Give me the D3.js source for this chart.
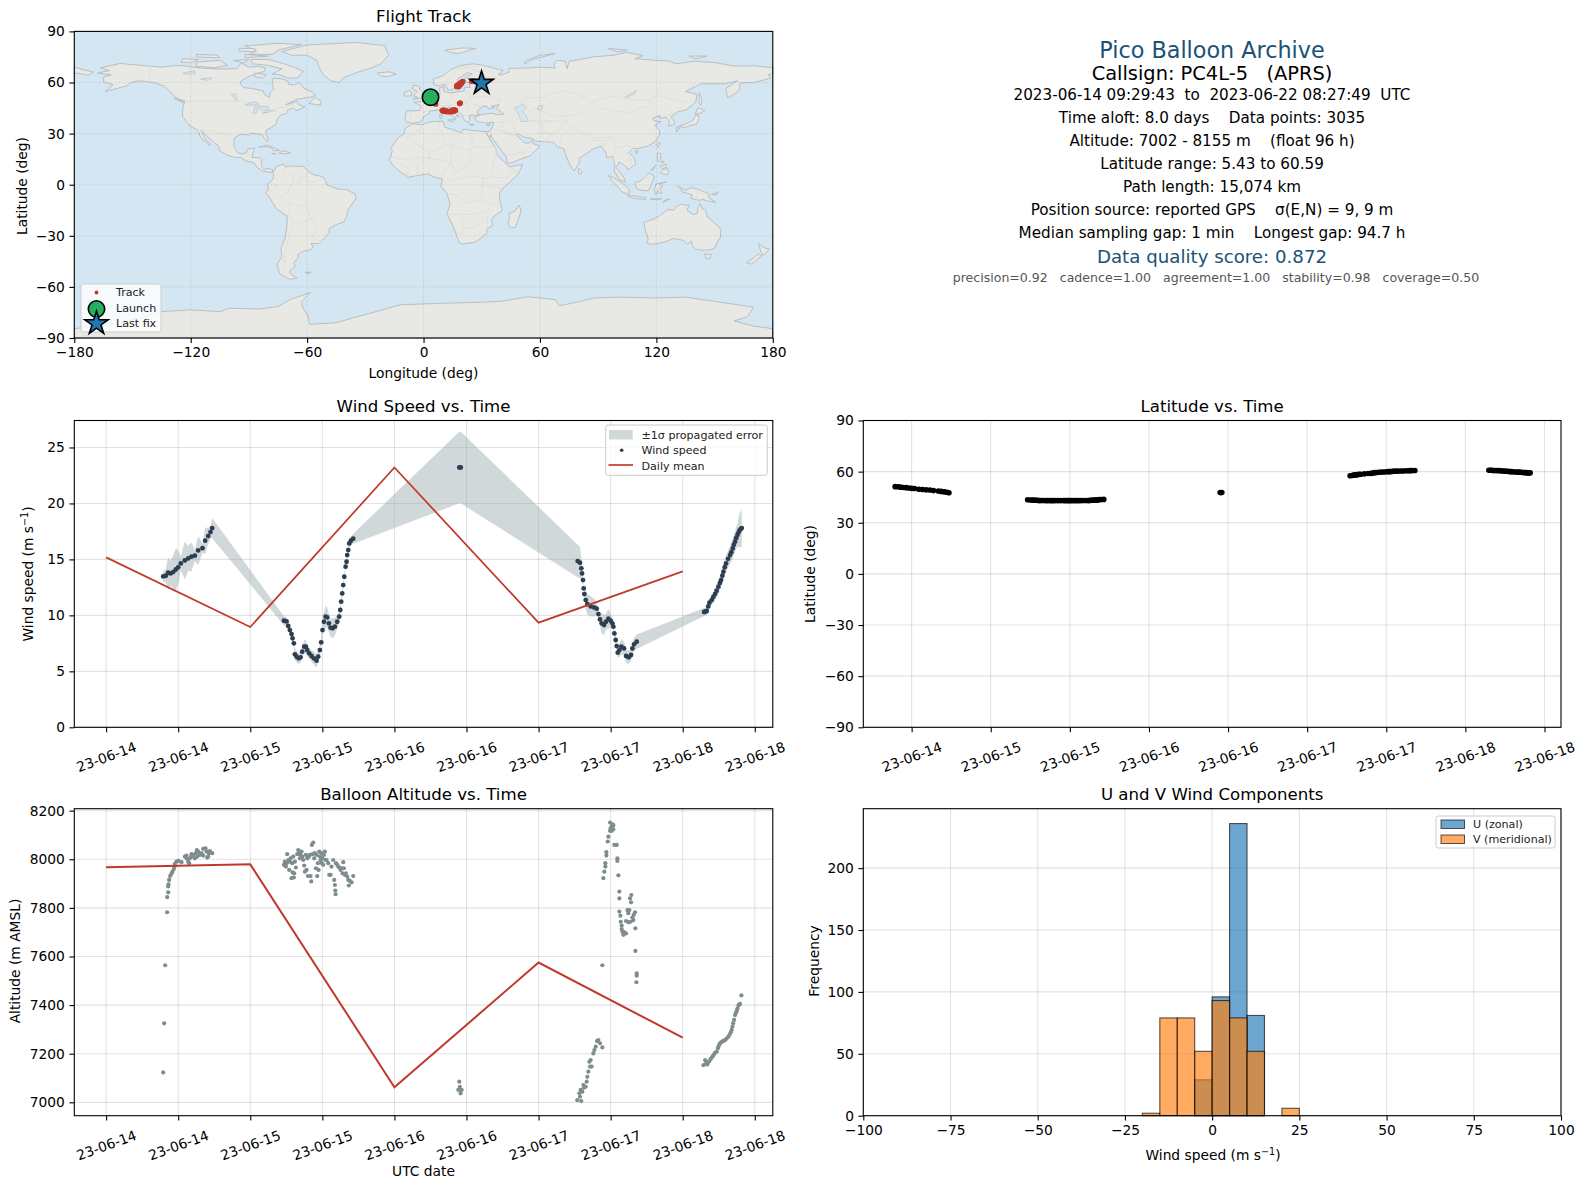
<!DOCTYPE html>
<html>
<head>
<meta charset="UTF-8">
<title>Pico Balloon Archive</title>
<script src="https://d3js.org/d3.v7.min.js"></script>
<style>
	body { margin: 0; background: #fff; }
	svg text { font-family: "DejaVu Sans", sans-serif; white-space: pre; }
</style>
</head>
<body>
<div id="svg-container"></div>
<script type="text/javascript">

// hours after 2023-06-14 00:00 UTC
const windHours = [9.5,9.94,10.33,10.72,11.16,11.6,11.99,12.44,13.1,13.66,14.21,14.77,15.32,16.05,16.49,16.99,17.38,17.66,
	29.6,30.04,30.32,30.59,30.87,31.04,31.26,31.43,31.7,32.04,32.37,32.65,32.98,33.26,33.48,33.81,34.2,34.59,35.04,35.31,35.59,35.81,36.03,36.26,36.54,36.81,37.09,37.37,37.7,38.09,38.48,38.81,38.98,39.14,39.31,39.48,39.65,39.87,40.03,40.14,40.31,40.48,40.75,41.14,
	58.8,59.05,
	78.51,78.9,79.12,79.24,79.4,79.51,79.62,79.85,80.12,80.68,81.23,81.68,81.96,82.23,82.51,82.9,83.23,83.62,84.01,84.29,84.46,84.62,84.84,85.01,85.18,85.46,85.79,86.23,86.57,87.01,87.4,87.62,87.9,88.34,
	99.56,99.8,100,100.25,100.45,100.84,101.1,101.39,101.65,101.95,102.2,102.39,102.6,102.78,103,103.22,103.55,103.89,104.1,104.33,104.5,104.72,104.9,105.11,105.3,105.44,105.65,105.83];
const windSpeed = [13.48,13.54,13.81,13.75,13.87,14.1,14.29,14.64,14.91,15.09,15.24,15.33,15.8,16,16.67,17.08,17.44,17.8,
	9.52,9.46,9.05,8.69,8.33,7.95,7.5,6.52,6.31,6.16,6.25,6.76,7.2,7.2,6.9,6.61,6.37,6.16,5.95,6.31,6.9,7.59,8.69,9.43,9.88,9.82,9.29,8.9,8.84,8.99,9.43,9.88,10.48,11.22,11.96,12.71,13.45,14.35,14.79,15.39,15.83,16.43,16.67,16.85,
	23.21,23.21,
	14.85,14.7,14.2,13.75,13.15,12.41,11.9,11.37,11.01,10.8,10.71,10.6,10.12,9.64,9.29,9.14,9.43,9.7,9.52,9.29,8.99,8.39,7.8,7.26,6.67,6.9,7.2,7.05,6.37,6.25,6.46,7.05,7.41,7.65,
	10.3,10.33,10.39,10.8,11.13,11.37,11.65,11.9,12.2,12.56,12.9,13.15,13.55,13.9,14.3,14.64,15.05,15.39,15.65,15.98,16.3,16.58,16.9,17.17,17.4,17.56,17.7,17.8];
// half width of the grey band at each of those points
const windSigma = [0.45,0.6,1.4,1.1,1.5,1.9,1.5,0.6,1.7,1.1,1.3,0.5,1.3,0.4,1.2,0.7,0.6,0.9,
	0.4,0.4,0.4,0.4,0.4,0.4,0.4,0.5,0.5,0.5,0.5,0.5,0.6,0.6,0.5,0.5,0.5,0.6,0.6,0.5,0.5,0.5,0.6,0.8,1,0.9,0.8,0.8,0.9,0.8,0.6,0.5,0.4,0.4,0.3,0.3,0.3,0.3,0.4,0.3,0.3,0.4,0.4,0.45,
	3.2,3.2,
	1.45,1.4,1,0.6,0.4,0.3,0.3,0.9,0.9,0.9,0.8,0.5,0.4,0.6,0.9,0.9,0.7,0.9,0.6,0.4,0.3,0.3,0.4,0.4,0.5,0.6,0.7,0.6,0.6,0.6,0.5,0.5,0.6,0.65,
	0.35,0.35,0.35,0.4,0.4,0.45,0.5,0.55,0.55,0.6,0.6,0.6,0.65,0.7,0.7,0.7,0.75,0.8,0.85,0.85,0.9,0.9,1,1,1.3,1.5,1.6,1.7];

// latitude at the same reports
const latValues = [51.2,51.1,50.9,50.7,50.6,50.4,50.2,50.1,49.7,49.5,49.3,49.2,48.9,48.6,48.4,48.1,47.9,47.6,
	43.5,43.4,43.3,43.3,43.2,43.2,43.1,43.1,43.1,43.1,43,43,43,43,43,43,43,43,43,43,43,43,43,43,43,43,43,43,43,43.1,43.1,43.1,43.1,43.2,43.2,43.2,43.3,43.3,43.4,43.4,43.5,43.6,43.6,43.7,
	47.7,47.7,
	57.6,57.8,58,58.1,58.2,58.2,58.3,58.4,58.5,58.7,58.9,59,59.2,59.4,59.5,59.6,59.7,59.8,59.9,60,60,60.1,60.1,60.2,60.2,60.3,60.3,60.4,60.4,60.5,60.5,60.6,60.6,60.7,
	60.8,60.8,60.8,60.7,60.7,60.6,60.6,60.5,60.4,60.3,60.2,60.2,60.1,60,60,59.9,59.8,59.7,59.7,59.6,59.6,59.5,59.5,59.4,59.4,59.3,59.3,59.3];

// altitude reports have their own times because the scatter is wider
const altHours = [9.5,9.66,9.83,10.16,10.16,10.33,10.33,10.38,10.49,10.66,10.88,11.05,11.27,11.38,11.44,11.72,12.05,12.55,
	13.1,13.38,13.66,13.94,14.21,14.49,14.77,14.94,15.1,15.32,15.6,15.88,16.16,16.55,16.71,16.99,17.27,17.66,17.1,15.16,14.21,13.38,13.83,16.16,16.82,
	29.6,29.76,29.93,30.04,30.15,30.32,30.48,30.59,30.7,30.87,30.98,31.04,31.15,31.26,31.32,31.43,31.59,31.82,31.98,32.15,32.26,32.37,32.54,32.65,32.82,32.98,33.09,33.26,33.37,33.48,33.59,33.76,33.93,34.04,34.15,34.26,34.37,34.48,34.65,34.76,34.93,35.04,35.15,35.26,35.37,35.48,35.59,35.7,35.81,35.92,36.03,36.15,36.26,36.42,36.54,36.7,36.98,37.15,37.37,37.53,37.81,37.98,38.09,38.15,38.2,38.26,38.48,38.65,38.81,39.03,39.2,39.37,39.48,39.59,39.76,39.92,40.14,40.31,40.42,40.59,40.87,41.14,
	58.8,58.9,58.64,59.19,59.02,
	78.46,78.9,79.12,78.79,79.29,79.01,79.57,79.85,79.46,80.01,80.12,80.29,80.57,80.84,80.46,80.68,81.12,81.29,81.51,81.73,81.96,82.23,82.62,
	82.79,82.95,83.12,83.12,83.29,83.29,83.51,83.62,83.9,84.34,84.18,84.45,84.01,83.9,84.18,84.45,84.62,85.01,85.12,85.12,85.29,85.45,85.45,85.45,85.62,85.68,85.84,85.84,85.95,86.12,86.23,86.56,86.56,86.79,86.95,87.12,86.95,87.34,87.79,87.62,88.06,87.84,87.23,87.4,87.45,88.12,88.12,88.34,88.34,88.29,82.62,
	99.45,99.72,100.11,100.45,100.83,101.22,101.67,101.95,102.22,102.67,103.06,103.61,104,104.28,104.55,104.72,105,105.28,105.55,105.77,
	99.9,100.25,100.65,101,101.4,101.85,102.1,102.45,102.9,103.3,103.8,104.15,104.4,104.85,105.12,105.4];
const altMeters = [7123,7325,7564,7782,7844,7864,7888,7897,7915,7931,7940,7949,7960,7970,7981,7990,7993,7988,
	8011,8004,7990,8004,8011,8018,8004,8025,8038,8032,8018,8025,8043,8045,8032,8011,8034,8025,8025,8011,8021,8015,7984,8015,8007,
	7977,7990,7970,7984,8021,7997,7956,7990,8004,7922,7984,7946,8011,7925,7942,7990,7966,8021,8038,8025,8004,8018,8032,8011,7997,7974,7949,8018,7956,8004,7931,8011,8018,7931,7909,8059,8021,8069,8004,8025,7963,8018,7931,7984,7956,8032,8011,7997,8025,7984,8004,7977,8018,8032,7997,7997,7984,7936,7936,7970,7997,7915,7894,7871,7856,7984,7977,7970,7966,7956,7963,7942,7988,7963,7936,7942,7929,7915,7892,7911,7905,7931,
	7085,7064,7051,7051,7037,
	7009,7023,7005,7037,7044,7051,7060,7064,7071,7085,7105,7126,7147,7147,7167,7174,7201,7215,7229,7252,7256,7243,7226,
	7922,7949,7970,7984,8015,8029,8073,8093,8151,8144,8134,8139,8128,8117,8117,8123,8059,8059,8004,7993,7934,7867,7839,7785,7768,7743,7727,7713,7702,7689,7700,7695,7746,7791,7778,7791,7741,7743,7750,7760,7782,7771,7839,7823,7853,7716,7623,7531,7521,7494,7564,
	7153,7174,7156,7170,7184,7197,7208,7229,7243,7252,7256,7270,7288,7311,7339,7359,7376,7398,7405,7440,
	7160,7165,7178,7190,7205,7222,7238,7248,7254,7262,7278,7298,7325,7368,7386,7402];

// daily means, hours given at midnight of each day
const dayHours = [0,24,48,72,96];
const dailyWind = [15.18,8.96,23.21,9.35,13.93];
const dailyAlt = [7967,7979,7062,7575,7266];

// histogram, 5 m/s bins
const binEdges = [-20,-15,-10,-5,0,5,10,15,20,25];
const uCounts = [0,0,0,29,96,236,81,0,0];
const vCounts = [2,79,79,52,93,79,52,0,6];

// track on the map
const trackLon = [3.7,4.2,4.7,5.3,5.8,6.2,9.6,10.2,10.9,11.6,12.3,13,13.6,14.2,14.9,15.5,16.1,16.4,15.6,14.6,11.2,10.4,18.6,18.9,17.1,17.3,17.6,17.9,18.2,18.6,19,19.4,19.8,20.2,18,18.6,19.4,24.8,25.6,26.6,27.6,28.6,29.4,30];
const trackLat = [50.9,50,49.3,48.5,47.9,47.4,43.5,43.2,43.1,43,43,43,43,43,43,43.2,43.5,43.7,44,43.5,43.6,43.8,47.6,47.9,57.7,58,58.3,58.5,58.8,59.2,59.5,59.9,60.2,60.6,57.5,58.3,59.3,60.7,60.8,60.6,60.3,60.1,59.8,59.4];
const launchLonLat = [3.6,51.4];
const lastFixLonLat = [29.9,59.6];

const lonTicks = [-180,-120,-60,0,60,120,180];
const latTicks = [-90,-60,-30,0,30,60,90];

// coastlines by hand, lon/lat rings
const land = [
	[[-156.5,71.2],[-150,70.5],[-141,69.6],[-135,69],[-128,70],[-124,69.8],[-115,68.5],[-108,68],[-100,68],[-96,68.2],[-94,71.5],[-90,69],[-85,69.5],[-81.5,68.5],[-82,66.5],[-87,65],[-90,63.5],[-94,61],[-94.5,58.8],[-92.5,57],[-88,56.4],[-82.5,55],[-82,52.9],[-79.5,51.3],[-79,54.5],[-77,56],[-78,58.7],[-77.5,62.4],[-73.5,62.3],[-70,61],[-69.5,58.8],[-66,58.5],[-64.5,60.3],[-61.5,56.5],[-57.5,54.5],[-55.7,52.5],[-58.5,51.3],[-65,50.3],[-67,49.3],[-71,46.9],[-65,49],[-64.5,47],[-61,45.7],[-65.5,43.5],[-67,45],[-70,43.8],[-70.7,42],[-74,40.6],[-75.5,38],[-76,35.5],[-78,33.9],[-81,32],[-81.3,30],[-80,26.8],[-80.5,25.2],[-82,27],[-83,29.2],[-85,29.7],[-89,30.2],[-90,29.1],[-94,29.6],[-97.2,27.8],[-97.7,25],[-97.8,22.4],[-96,19],[-94.5,18.1],[-91.5,18.6],[-90.5,21],[-87,21.5],[-88,18.5],[-88.5,16],[-84,15.8],[-83.3,14.9],[-83.7,11],[-82,9],[-79.7,9.5],[-77.4,8.7],[-78,7.3],[-80,7.3],[-83,8.2],[-85.7,10],[-87.5,13],[-91.5,14],[-94.5,16.2],[-97,15.9],[-101.5,17.5],[-105.3,20],[-105.5,22.5],[-109,25.8],[-112.5,29.5],[-114.7,31.7],[-112.5,27],[-110,24],[-110,23],[-112,25],[-115,28],[-115.9,30.5],[-117.2,32.6],[-120.5,34.5],[-122.5,37.5],[-124.3,40.3],[-124,46],[-123,49],[-127.5,51],[-130.5,54.5],[-134,58],[-139,60],[-146,61],[-151,60],[-153,58],[-158,56.5],[-164,54.7],[-160,58.7],[-165,60.5],[-165,63.2],[-161,64.5],[-168,65.6],[-162,67],[-166.5,68.5]],
	[[-73,78.2],[-60,82],[-35,83.5],[-20,81.7],[-18,76],[-22,71],[-27,68.5],[-34,66],[-41,63],[-43.5,60],[-48,61],[-52,65],[-54,69.5],[-55,73],[-60,76],[-68,76]],
	[[-80,73.5],[-72,71],[-67,69],[-62,66.5],[-65,62.5],[-70,62.7],[-74,64.5],[-78,65],[-73,68],[-80,70],[-88,71],[-89,73.5]],
	[[-117,72],[-105,73],[-101,70],[-108,68.7],[-117,69.5]],
	[[-124,74],[-116,73.5],[-120,71.5],[-125,72]],
	[[-90,76.5],[-78,76.5],[-75,79],[-63,82.3],[-75,83],[-92,81.5],[-86,78.5]],
	[[-92,76.5],[-80,75.5],[-92,74.6]],
	[[-117,76.5],[-106,76],[-105,74.5],[-117,75]],
	[[-95,80],[-87,80],[-87,78],[-95,78.5]],
	[[-98,73],[-90,73.5],[-93,71.5]],
	[[-87,65.5],[-81,64.5],[-83,62.5],[-87,63.5]],
	[[-59,47.7],[-53,46.7],[-53,49],[-56,51.5]],
	[[-128.5,50.8],[-123.5,48.4],[-125,48.7]],
	[[-85,22],[-80,23.2],[-74.2,20.2],[-77.5,19.9],[-78,21.5],[-82,22.5]],
	[[-74.5,18.5],[-72.5,20],[-68.5,18.7],[-71,18]],
	[[-78.3,18.4],[-76.3,18.2],[-77,17.8]],
	[[-75.5,10.8],[-72,12.2],[-71.5,10.5],[-68,11],[-62,10.7],[-60,8.5],[-57,6],[-52,4.7],[-50,1.5],[-50,0],[-44.5,-2.5],[-40,-2.9],[-35.3,-5.3],[-34.8,-8],[-37,-11.5],[-39,-15],[-39.5,-18.5],[-41,-22],[-44.5,-23.2],[-48.5,-25.5],[-48.7,-28.5],[-52,-32.5],[-54,-34.7],[-58,-34.4],[-57,-36.5],[-58,-38.3],[-62,-39],[-65,-41],[-64.5,-42.8],[-67,-46],[-66,-48],[-69,-50.5],[-68.3,-52.5],[-65.2,-54.8],[-69,-55.5],[-74,-52.5],[-75.5,-47],[-73,-42],[-73.5,-37],[-71.5,-32],[-70.5,-25],[-70.2,-18.5],[-76,-14],[-79,-8],[-81.3,-5],[-80,-2.5],[-80.5,0.5],[-78.5,2],[-77.3,4],[-77.5,7.5]],
	[[-61,-51.5],[-58,-51.3],[-59,-52.3]],
	[[-6,35.8],[-1,35.2],[3,36.9],[10,37.3],[11,33.8],[15,32.3],[19.5,30.5],[20.5,32.7],[25,31.8],[32,31.2],[32.5,30],[33.5,28],[35.5,24],[37.3,21],[37.5,18.5],[39.5,15.5],[43,12],[44,10.5],[51,11.8],[49,6.5],[45,2],[41,-2],[39,-5],[39.5,-10],[40.6,-15],[36.5,-18.5],[35,-20.5],[35.5,-24],[32.8,-26],[32.5,-28.5],[28,-33],[25.5,-34],[20,-34.8],[18.3,-34],[17,-29.5],[14.5,-22.5],[12,-17.5],[13.7,-11],[12,-5],[9,-1],[9.7,3.5],[6,4.3],[2,6.3],[-4,5.2],[-7.7,4.4],[-12,7.5],[-16,11.5],[-17.5,14.7],[-16,20],[-17,21],[-13,27.7],[-10,30],[-9.5,33]],
	[[-5.5,36],[-9,37],[-9.5,38.8],[-8.8,43.3],[-1.8,43.5],[-1,46],[-4.8,48.4],[-1.5,48.7],[1.5,50.5],[4,52],[5.5,53.3],[8.5,53.7],[8.2,56.7],[10.6,57.7],[10.3,55],[12,54.3],[14.2,53.9],[18.5,54.7],[21,55],[21,57.2],[24,57],[23.5,59.3],[28,59.6],[30,60],[25,60.2],[22.5,60],[21.3,61.5],[21.5,63],[25.2,65],[22.5,65.8],[21,64.5],[17.5,62.3],[17.5,60.6],[18.8,59.5],[16.5,57],[14.3,55.5],[12.8,55.5],[11.2,59],[8,58],[5.3,59],[5,62],[10,64],[14,67.5],[19,70],[25.7,71],[31,70],[41,67],[38.5,64.5],[40.5,64.6],[44,66],[44,68.3],[54,68.5],[60,69],[68,68.5],[67,71],[69,73],[73,72.5],[74,68],[75,72.5],[80.5,73.5],[87,75],[98,76],[104.5,77.7],[113,75.8],[109,74],[120,73],[127,72.5],[130,71],[140,72.5],[150,71.7],[160,69.7],[170,69.8],[178,69],[180,68.9],[180,65],[177.5,64.7],[179,62.5],[170,60],[163,59.7],[163,56],[160,53],[156.7,51],[155.7,56.5],[162,61],[155,59.3],[143,59.3],[135,54.7],[141,53],[140.3,48.5],[135.5,44],[131,42.7],[127.5,39.8],[129.4,37],[129,35],[126.4,34.5],[126.6,37.5],[125,39.6],[121.5,39],[122,40.7],[118,39],[119,37.3],[122.5,37],[119.3,35],[121.8,31.5],[121.7,29],[119.5,25.5],[116,22.8],[110.5,21.2],[108,21.5],[105.8,19],[108.8,15.5],[109.3,12],[105.2,8.7],[105,10],[100.8,13.4],[99.3,10],[103.3,4],[104.2,1.3],[101,3],[98.3,8],[98.6,12],[97.5,16.5],[94.3,16],[94.2,18.5],[91.5,22.6],[89,21.8],[86.7,20.5],[80.3,15.5],[80.2,12.5],[77.5,8],[75,12.5],[72.8,19],[72.5,21],[69,22.3],[67,25],[61.5,25.2],[57,25.7],[56.5,27],[51.5,28],[48.5,30],[47.8,29],[50,26.7],[51.5,25],[54,24.2],[56.2,26],[56.5,24.2],[59.8,22.5],[55,17],[52,15.8],[45,12.8],[43.3,12.7],[42.5,16.5],[39.2,21.5],[35,28],[34.7,29.5],[34.3,27.9],[32.6,29.9],[32.3,31.2],[34.3,31.3],[35.8,34.5],[36,36.8],[32,36.2],[30.5,36.5],[27.5,37],[26.3,39.3],[29,41],[35,42],[38,41],[41.5,41.5],[37.5,44.7],[39,47],[35,46],[36.5,45.3],[33.5,44.5],[32.7,46],[30.5,46],[28,43.5],[27.8,42],[29,41.2],[26.5,40.5],[23.5,40.5],[24,38],[23,36.5],[21.3,37.5],[19.5,41.5],[15,44.5],[13.7,45.6],[12.3,45.3],[12.5,44],[16,41.8],[18.5,40],[17,40.4],[16,38],[15.7,40],[12,42],[10,44],[7.5,43.8],[3,43.2],[3,41.8],[0,39.8],[-0.5,38],[-2,36.8]],
	[[-180,68.9],[-175,67.5],[-170,66],[-173,64.3],[-178,65.5],[-180,65]],
	[[-5.5,50.1],[1.2,51.2],[1.7,52.7],[-0.2,54],[-2,55.8],[-2,57.6],[-5,58.6],[-6,56.5],[-3.2,54.8],[-4.5,53.3],[-5,51.7],[-3,51.4]],
	[[-10,52],[-6.2,52.2],[-6,54],[-7.5,55.3],[-10,54]],
	[[-24,65.5],[-18,66.3],[-14,65],[-18.5,63.4],[-22.5,64]],
	[[11,79],[20,80.3],[27,80],[18,77],[14,77.5]],
	[[52,71],[56,73.5],[68,77],[60,76],[53,73]],
	[[95,80],[105,79],[100,78]],
	[[137,75.5],[146,75.5],[140,73.8]],
	[[142,54],[143.5,50],[143,46.5],[142,48]],
	[[130.9,34],[135,35.6],[139,38],[140,40.5],[141.5,41],[142,39],[140.8,35.7],[137,34.6],[135,33.5],[132,34]],
	[[140,41.5],[141.5,45.3],[145,43.5],[143,42]],
	[[130,33.5],[132,33],[130.5,31]],
	[[121,25],[122,24.5],[120.8,22],[120,23.5]],
	[[108.8,19.5],[110.5,20],[110,18.3]],
	[[120.5,18.5],[122.2,18.3],[122,15],[124,13],[120.7,13.8]],
	[[122,7],[123.5,8.7],[125.5,9.7],[126.5,7],[125,5.7]],
	[[122,11],[125,12],[125,10.3],[123,9.3]],
	[[117.2,8.4],[119.5,11.3],[118.5,9]],
	[[109,1.5],[111,1.8],[113,3.2],[116,7],[119,5],[117.7,1],[116,-3.5],[114,-3.5],[110.3,-2.8],[109,0]],
	[[95.3,5.5],[98,4],[103.5,0],[106,-3],[105.8,-5.8],[102,-4],[100,-1],[97,2.5]],
	[[105.2,-6.5],[108.5,-6.5],[114.5,-7.6],[114.5,-8.7],[108,-7.9]],
	[[119.8,0.5],[125,1.5],[121,0.5],[123.3,-1],[121.5,-2],[123,-5],[121.5,-4.7],[120.5,-3],[120.4,-5.5],[119.5,-5.5],[119,-2.8]],
	[[123.5,-10.3],[127,-8.4],[124,-9.3]],
	[[116.8,-8.4],[122.8,-8.2],[120,-8.9]],
	[[131,-0.8],[135,-3.3],[138,-1.7],[141,-2.6],[145,-4.3],[147.8,-6],[146.5,-7],[150.5,-10.4],[147,-9.7],[143.5,-8.5],[142.5,-9.2],[138,-8.2],[138.5,-6],[133,-4],[132.8,-2.8]],
	[[148.5,-5.7],[152,-4.2],[151,-6]],
	[[113.5,-22],[114.2,-26],[115.8,-32],[115,-34.3],[118,-35],[123.5,-33.9],[129,-31.6],[134,-32.7],[136,-35],[138,-33],[138.5,-35.7],[140.5,-38],[144,-38.5],[147,-38.3],[150,-37.3],[151.3,-33.8],[153,-31],[153.2,-26],[149.5,-22],[146.3,-19],[145.3,-15],[143.5,-14],[142.5,-11],[141.5,-13.5],[141,-17],[139,-17.5],[135.7,-15],[136.8,-12.2],[132.5,-11.5],[130,-13],[129,-15],[125.5,-14.5],[122.2,-18],[119,-20],[114.5,-21.7]],
	[[144.7,-40.7],[148.3,-41],[147.8,-43.3],[146,-43.5]],
	[[172.7,-34.5],[175.5,-37],[178.3,-37.8],[176.8,-39.5],[175,-41.5],[173.8,-39.3]],
	[[172.7,-40.6],[174.2,-41.7],[171,-45],[169,-46.6],[166.5,-45.8],[170,-43]],
	[[49.3,-12],[50.3,-15.5],[47.5,-24.8],[45.2,-25.5],[43.5,-23],[44.3,-20],[44,-17],[47,-15.5]],
	[[80,9.7],[81.8,7.5],[80.5,6],[79.8,7.5]],
	[[12.5,38],[15.5,38.2],[15,36.7]],
	[[8.3,41],[9.7,41],[9.5,39.2],[8.5,39]],
	[[23.5,35.5],[26.2,35.2],[24.5,34.9]],
	[[32.4,35],[34.5,35.6],[33.5,34.6]],
	[[-180,-84.5],[-160,-82],[-146,-78.5],[-135,-74.5],[-120,-73.5],[-105,-74.5],[-100,-72.5],[-85,-73],[-75,-71.5],[-68,-67],[-58,-63.3],[-60,-65],[-63,-69],[-62,-73],[-60,-76],[-58.5,-82],[-45,-81],[-33.5,-77.3],[-26,-75],[-12,-70.5],[0,-70],[14,-69.5],[30,-69],[40,-68.5],[54,-65.8],[68,-67.5],[70,-71],[77,-69.5],[88,-66.5],[100,-66],[120,-66.5],[135,-66],[150,-68.5],[162,-70.5],[170,-72],[167,-77.5],[160,-80],[170,-83],[180,-84.5],[180,-90],[-180,-90]]
];
// big lakes and the Caspian cut back to sea colour
const lakes = [
	[[-92,46.8],[-88,48.7],[-85,47.8],[-85,46.6],[-88,46.7]],
	[[-87.8,42],[-86.3,42],[-85,45.5],[-87,45.7]],
	[[-84.5,46],[-80,45.8],[-80,44.5],[-82.5,43.2],[-83.8,44]],
	[[-83,42],[-79,42.9],[-76.5,43.5],[-79.5,43.8],[-81,42.7]],
	[[-96,49],[-97,53.5],[-99,53],[-97.5,50.5]],
	[[-124,65.5],[-118,67],[-118,65],[-122,64.8]],
	[[-115,62],[-109,62.8],[-111,61.2]],
	[[47,45],[51.5,47],[53,45],[51,43],[53,40.5],[54,37],[50,37.3],[49.5,40.5]],
	[[59,46],[61.5,46.5],[61,44],[58.5,44]],
	[[104,51.5],[109.8,55.5],[109,53.5],[105,51.4]]
];
// country borders, only roughly
const borders = [
	[[-141,69.6],[-141,60.2]],
	[[-123,49],[-95,49],[-89,48],[-84,46.4],[-82.5,43],[-79,43],[-75,45],[-70,46],[-67.5,47],[-67,45]],
	[[-117.2,32.6],[-108,31.4],[-105,30],[-101,29.5],[-97.5,25.9]],
	[[-92,14.6],[-91,17.8],[-89,17.9]],[[-71.7,12],[-72,7],[-67.5,6],[-67,1.5],[-70,-4.2],[-74,-7],[-69.5,-11],[-69,-17.5],[-70.3,-18.4]],
	[[-79.5,0.8],[-75.3,-0.1],[-78,-3.5],[-80.3,-3.5]],
	[[-60,8.5],[-60.5,5],[-64,4],[-64,1.5],[-67,1.5]],
	[[-52,4],[-54,2.3],[-60,1.5],[-60,5]],
	[[-69,-11],[-60,-13.5],[-58,-20],[-54.5,-25.5],[-57.6,-30.2],[-53.5,-33.7]],
	[[-69,-17.5],[-67.5,-22.8],[-62.5,-22],[-58,-20]],
	[[-67.5,-22.8],[-70,-33],[-71.5,-40],[-72,-50],[-68.5,-52.3]],
	[[-8.7,27.5],[-2,32],[-1.5,35]],[[-13,27.7],[-8.7,27.5],[-5,25],[3,19],[12,23.5],[9.5,30],[8,33],[8.5,37]],
	[[12,23.5],[15,23],[24,20],[25,22],[25,31.5]],[[25,22],[36.8,22]],
	[[24,20],[24,12],[22,11],[27,5],[31,3.7],[35,4.5],[42,4],[48,8],[43,11]],
	[[36.8,22],[38,18]],[[35,4.5],[36,12.5],[38,18]],
	[[-16.5,16],[-12,15],[-5,15.5],[3,15.5],[3,19]],
	[[3,15.5],[14,13],[15,23]],[[14,13],[9,4.5]],[[3,6.3],[3.5,12]],[[-8,4.5],[-8,10],[-12,12.5]],[[-3,5],[-3,11],[-5,15.5]],
	[[14,13],[16,7],[22,11]],[[13,2.2],[18,3.5],[27,5]],[[12,-5],[17,-6],[22,-11],[30,-8.5],[30,-1],[31,3.7]],
	[[41,-2],[34,-1],[30,-1]],[[39.5,-10.5],[34.5,-11.5],[30,-8.5]],
	[[12,-17.3],[24,-17.5],[33,-16],[35,-11.5]],[[20,-18],[20,-28.5],[17,-28.5]],[[20,-25],[25,-25.5],[29.5,-22.3],[33,-19],[32.8,-26]],
	[[-1,46.3],[-1.7,43.4],[3,42.5]],[[-6.9,42],[-7,37.2]],[[1.5,50.9],[6,49.5],[8,49],[7.5,44]],[[7,53.3],[6,50.8]],[[9,54.8],[8,49],[13,47.6],[15,51],[14.2,53.9]],
	[[7,46],[13.7,46.6],[16.5,48],[22.5,48.5],[24,51],[23.5,53.8],[21,55]],[[13.7,46],[19,42],[20.8,40.5],[26,41.5],[22.5,44],[22.5,48.5]],[[28,45.5],[30,46],[24,48]],
	[[24,51],[32,52],[40,49.5],[38,47]],[[28,56],[31.5,52.2]],[[27.5,57.5],[28,59.5]],[[12,61],[18,68.5],[24,68.5],[29,66],[30,62],[28,60]],[[20,69],[29,69.5]],
	[[36.5,36.5],[42,37],[44.8,37.5],[46,39]],[[39,32],[47,29.5]],[[35.5,33],[39,32],[42,37]],[[47.8,29],[45,29],[39,32]],[[52,16.5],[52,20],[55,22],[56,24.5]],[[43,17],[52,19]],[[44.8,37.5],[48,30]],
	[[48,38.5],[61,36.5],[61,31],[62,25.2]],[[61,36.5],[66.5,37.3],[74.5,37.2]],[[61,31],[66,29.5],[70,33],[74.5,37.2]],[[66,29.5],[62,25.2]],[[70,22.5],[71,28],[74.5,32],[77,35.5]],[[77,35.5],[81,30.5],[88,27.5],[97,28],[94,24.5],[92,21]],[[88,27.5],[88,26],[92,26],[92.5,22.5]],
	[[50,46],[51,51],[61,51],[71,55],[77,54],[87,49]],[[87,49],[80,42],[74,40],[70,41]],[[54,42],[56,45],[66,41],[73,39.5]],[[66.5,37.3],[62,38],[54,37.5]],
	[[87,49],[98,52],[107,50],[117,49.7],[120,53],[127,50],[135,48.5],[131,43]],[[87,49],[91,45],[105,42],[112,45],[117,47],[117,49.7]],
	[[97,28],[99,22],[102,22],[105,23],[108,21.5]],[[99,22],[98,16],[99.3,10]],[[102,22],[105,18],[107.5,14.5],[106,11]],[[102.5,12],[105,14.5],[107.5,14.5]],[[124.5,40],[130,42.5]],[[125,38],[128.5,38.5]],[[100,6.5],[102,6.2]],[[109.7,2],[114,4.5],[117,4.3]],[[141,-2.6],[141,-9.2]]
];

const meanColor = "#c0392b", bandColor = "#95a5a6", windColor = "#2c3e50", altColor = "#7f8c8d";
const blue = "#1a5276", tickFont = 13.8;

const t0 = Date.UTC(2023, 5, 14);
const toDate = h => new Date(t0 + h * 3600000);

let svg = d3.select("#svg-container").append("svg")
	.attr("width", 1586).attr("height", 1189)
	.style("display", "block");

function panel(x0, x1, y0, y1, title) {
	let g = svg.append("g");
	g.append("text").attr("x", (x0 + x1) / 2).attr("y", y0 - 9)
		.attr("text-anchor", "middle").attr("font-size", 16.6).text(title);
	return {g: g, x0: x0, x1: x1, y0: y0, y1: y1};
}

function grid(p, x, y, xs, ys, dash) {
	let g = p.g.append("g").attr("stroke", "#000").attr("stroke-opacity", 0.11)
		.attr("stroke-width", 1.1).attr("stroke-dasharray", dash);
	g.selectAll(".v").data(xs).join("line").attr("class", "v")
		.attr("x1", d => x(d)).attr("x2", d => x(d)).attr("y1", p.y0).attr("y2", p.y1);
	g.selectAll(".h").data(ys).join("line").attr("class", "h")
		.attr("y1", d => y(d)).attr("y2", d => y(d)).attr("x1", p.x0).attr("x2", p.x1);
	return g;
}

function styleAxis(g) {
	g.selectAll("text").attr("font-size", tickFont).attr("fill", "#000")
		.attr("font-family", '"DejaVu Sans", sans-serif');
	g.selectAll("line").attr("stroke", "#000").attr("stroke-width", 1.1);
	g.select(".domain").remove();
}

function axes(p, xAxis, yAxis, rotate) {
	let gx = p.g.append("g").attr("transform", `translate(0,${p.y1})`).call(xAxis.tickSize(4.9).tickPadding(4.5));
	let gy = p.g.append("g").attr("transform", `translate(${p.x0},0)`).call(yAxis.tickSize(4.9).tickPadding(4.5));
	styleAxis(gx);
	styleAxis(gy);
	if (rotate) {
		gx.selectAll("text")
			.attr("y", 0).attr("dy", "0.32em")
			.attr("text-anchor", "middle")
			.attr("transform", "translate(0,30) rotate(-20)");
	}
	p.g.append("rect").attr("x", p.x0).attr("y", p.y0)
		.attr("width", p.x1 - p.x0).attr("height", p.y1 - p.y0)
		.attr("fill", "none").attr("stroke", "#000").attr("stroke-width", 1.1);
}

function yLabel(x, yc, parts) {
	let t = svg.append("text").attr("transform", `translate(${x},${yc}) rotate(-90)`)
		.attr("text-anchor", "middle").attr("font-size", tickFont);
	addParts(t, parts);
}
function xLabel(xc, y, parts) {
	let t = svg.append("text").attr("x", xc).attr("y", y)
		.attr("text-anchor", "middle").attr("font-size", tickFont);
	addParts(t, parts);
}
// "m s" + superscript -1 + ")"
function addParts(t, parts) {
	if (parts.length == 1) { t.text(parts[0]); return; }
	t.append("tspan").text(parts[0]);
	t.append("tspan").attr("dy", -5).attr("font-size", 9.6).text(parts[1]);
	t.append("tspan").attr("dy", 5).text(parts[2]);
}

function timeAxes(p, x, y, yTicks) {
	let xAxis = d3.axisBottom(x).tickValues(x.ticks(d3.utcHour.every(12))).tickFormat(d3.utcFormat("%y-%m-%d"));
	let yAxis = d3.axisLeft(y).tickValues(yTicks).tickFormat(d3.format("d"));
	axes(p, xAxis, yAxis, true);
}

function legendBox(p, x, y, w, h) {
	p.g.append("rect").attr("x", x).attr("y", y).attr("width", w).attr("height", h).attr("rx", 2.5)
		.attr("fill", "#fff").attr("fill-opacity", 0.8).attr("stroke", "#ccc").attr("stroke-width", 1);
}
function legendText(p, x, y, s) {
	p.g.append("text").attr("x", x).attr("y", y).attr("dy", "0.36em").attr("font-size", 11.1).attr("fill", "#222").text(s);
}

/* ---- map ---- */
let mapP = panel(74.3, 772.8, 31.4, 338, "Flight Track");
let lon = d3.scaleLinear().domain([-180, 180]).range([mapP.x0, mapP.x1]);
let lat = d3.scaleLinear().domain([-90, 90]).range([mapP.y1, mapP.y0]);
let ringPath = d3.line().x(d => lon(d[0])).y(d => lat(d[1])).curve(d3.curveLinearClosed);
let openPath = d3.line().x(d => lon(d[0])).y(d => lat(d[1]));

mapP.g.append("rect").attr("x", mapP.x0).attr("y", mapP.y0)
	.attr("width", mapP.x1 - mapP.x0).attr("height", mapP.y1 - mapP.y0).attr("fill", "#d4e6f1");
mapP.g.append("g").selectAll("path").data(land).join("path").attr("d", ringPath)
	.attr("fill", "#e8e8e4").attr("stroke", "#b4babd").attr("stroke-width", 0.9);
mapP.g.append("g").selectAll("path").data(lakes).join("path").attr("d", ringPath)
	.attr("fill", "#d4e6f1").attr("stroke", "#b4babd").attr("stroke-width", 0.6);
mapP.g.append("g").selectAll("path").data(borders).join("path").attr("d", openPath)
	.attr("fill", "none").attr("stroke", "#dcdcd9").attr("stroke-width", 0.8);
grid(mapP, lon, lat, lonTicks, latTicks, "2.5,1.5").attr("stroke-opacity", 0.07);

mapP.g.append("g").selectAll("circle").data(d3.range(trackLon.length)).join("circle")
	.attr("cx", i => lon(trackLon[i])).attr("cy", i => lat(trackLat[i])).attr("r", 2.8)
	.attr("fill", meanColor);
mapP.g.append("circle").attr("cx", lon(launchLonLat[0])).attr("cy", lat(launchLonLat[1])).attr("r", 8.2)
	.attr("fill", "#27ae60").attr("stroke", "#000").attr("stroke-width", 1.6);
let star = d3.symbol().type(d3.symbolStar).size(170);
mapP.g.append("path").attr("d", star).attr("transform", `translate(${lon(lastFixLonLat[0])},${lat(lastFixLonLat[1])})`)
	.attr("fill", "#2176ae").attr("stroke", "#000").attr("stroke-width", 1.6);

legendBox(mapP, 81, 284, 80, 48);
mapP.g.append("circle").attr("cx", 96.5).attr("cy", 292.5).attr("r", 1.9).attr("fill", meanColor);
mapP.g.append("circle").attr("cx", 96.5).attr("cy", 309).attr("r", 8.2)
	.attr("fill", "#27ae60").attr("stroke", "#000").attr("stroke-width", 1.6);
mapP.g.append("path").attr("d", star).attr("transform", "translate(96.5,323.5)")
	.attr("fill", "#2176ae").attr("stroke", "#000").attr("stroke-width", 1.6);
legendText(mapP, 116, 292.5, "Track");
legendText(mapP, 116, 308.5, "Launch");
legendText(mapP, 116, 323.5, "Last fix");

axes(mapP,
	d3.axisBottom(lon).tickValues(lonTicks).tickFormat(d3.format("d")),
	d3.axisLeft(lat).tickValues(latTicks).tickFormat(d3.format("d")), false);
xLabel(423.5, 378, ["Longitude (deg)"]);
yLabel(27, 186, ["Latitude (deg)"]);

/* ---- header text ---- */
const headerLines = [
	["Pico Balloon Archive", 57.5, 22.3, blue, 1212],
	["Callsign: PC4L-5   (APRS)", 79.5, 19.4, "#000", 1212],
	["2023-06-14 09:29:43  to  2023-06-22 08:27:49  UTC", 99.5, 15.2, "#000", 1212],
	["Time aloft: 8.0 days    Data points: 3035", 123, 15.2, "#000", 1212],
	["Altitude: 7002 - 8155 m    (float 96 h)", 146, 15.2, "#000", 1212],
	["Latitude range: 5.43 to 60.59", 169, 15.2, "#000", 1212],
	["Path length: 15,074 km", 192, 15.2, "#000", 1212],
	["Position source: reported GPS    σ(E,N) = 9, 9 m", 215, 15.2, "#000", 1212],
	["Median sampling gap: 1 min    Longest gap: 94.7 h", 238, 15.2, "#000", 1212],
	["Data quality score: 0.872", 263, 18.2, blue, 1212],
	["precision=0.92   cadence=1.00   agreement=1.00   stability=0.98   coverage=0.50", 282, 12.55, "#555", 1216]
];
svg.append("g").selectAll("text").data(headerLines).join("text")
	.attr("x", d => d[4]).attr("y", d => d[1]).attr("font-size", d => d[2]).attr("fill", d => d[3])
	.attr("text-anchor", "middle").text(d => d[0]);

/* ---- wind speed ---- */
let windP = panel(74.3, 772.8, 420.5, 727.3, "Wind Speed vs. Time");
let xLeft = d3.scaleUtc().domain([toDate(-5.3), toDate(111)]).range([windP.x0, windP.x1]);
let wy = d3.scaleLinear().domain([0, 27.41]).range([windP.y1, windP.y0]);
grid(windP, xLeft, wy, xLeft.ticks(d3.utcHour.every(12)), [0, 5, 10, 15, 20, 25]);

let band = d3.area()
	.x((d, i) => xLeft(toDate(windHours[i])))
	.y0((d, i) => wy(windSpeed[i] - windSigma[i]))
	.y1((d, i) => wy(windSpeed[i] + windSigma[i]));
windP.g.append("path").attr("d", band(windHours)).attr("fill", bandColor).attr("fill-opacity", 0.43);
windP.g.append("g").selectAll("circle").data(windHours).join("circle")
	.attr("cx", d => xLeft(toDate(d))).attr("cy", (d, i) => wy(windSpeed[i])).attr("r", 2.4)
	.attr("fill", windColor);
let meanLine = (x, y, vals) => d3.line().x((d, i) => x(toDate(dayHours[i]))).y((d, i) => y(vals[i]))(dayHours);
windP.g.append("path").attr("d", meanLine(xLeft, wy, dailyWind)).attr("fill", "none")
	.attr("stroke", meanColor).attr("stroke-width", 1.7);

timeAxes(windP, xLeft, wy, [0, 5, 10, 15, 20, 25]);
yLabel(33, 574, ["Wind speed (m s", "−1", ")"]);

legendBox(windP, 605.7, 425, 161.6, 50.3);
windP.g.append("rect").attr("x", 609).attr("y", 430).attr("width", 23.7).attr("height", 9.4).attr("fill", bandColor).attr("fill-opacity", 0.43);
windP.g.append("circle").attr("cx", 621.7).attr("cy", 450.3).attr("r", 1.8).attr("fill", windColor);
windP.g.append("line").attr("x1", 608.5).attr("x2", 633).attr("y1", 465).attr("y2", 465).attr("stroke", meanColor).attr("stroke-width", 1.7);
legendText(windP, 641.5, 435, "±1σ propagated error");
legendText(windP, 641.5, 450.3, "Wind speed");
legendText(windP, 641.5, 466, "Daily mean");

/* ---- latitude ---- */
let latP = panel(863.3, 1561, 420.5, 727.3, "Latitude vs. Time");
let xRight = d3.scaleUtc().domain([toDate(4.67), toDate(110.5)]).range([latP.x0, latP.x1]);
let ly = d3.scaleLinear().domain([-90, 90]).range([latP.y1, latP.y0]);
grid(latP, xRight, ly, xRight.ticks(d3.utcHour.every(12)), latTicks);
latP.g.append("g").selectAll("circle").data(windHours).join("circle")
	.attr("cx", d => xRight(toDate(d))).attr("cy", (d, i) => ly(latValues[i])).attr("r", 2.8)
	.attr("fill", "#000");
timeAxes(latP, xRight, ly, latTicks);
yLabel(815, 574, ["Latitude (deg)"]);

/* ---- altitude ---- */
let altP = panel(74.3, 772.8, 808.7, 1115.7, "Balloon Altitude vs. Time");
let ay = d3.scaleLinear().domain([6945, 8208]).range([altP.y1, altP.y0]);
let altTicks = d3.range(7000, 8201, 200);
grid(altP, xLeft, ay, xLeft.ticks(d3.utcHour.every(12)), altTicks);
altP.g.append("g").selectAll("circle").data(altHours).join("circle")
	.attr("cx", d => xLeft(toDate(d))).attr("cy", (d, i) => ay(altMeters[i])).attr("r", 2.1)
	.attr("fill", altColor);
altP.g.append("path").attr("d", meanLine(xLeft, ay, dailyAlt)).attr("fill", "none")
	.attr("stroke", meanColor).attr("stroke-width", 2);
timeAxes(altP, xLeft, ay, altTicks);
yLabel(20, 961, ["Altitude (m AMSL)"]);
xLabel(423.5, 1176, ["UTC date"]);

/* ---- histogram ---- */
let histP = panel(863.3, 1561, 808.7, 1115.7, "U and V Wind Components");
let hx = d3.scaleLinear().domain([-100, 100]).range([histP.x0, histP.x1]);
let hy = d3.scaleLinear().domain([0, 248]).range([histP.y1, histP.y0]);
let histXTicks = d3.range(-100, 101, 25), histYTicks = [0, 50, 100, 150, 200];
grid(histP, hx, hy, histXTicks, histYTicks);

function bars(counts, fill) {
	let rows = counts.map((c, i) => ({a: binEdges[i], b: binEdges[i + 1], c: c})).filter(d => d.c > 0);
	histP.g.append("g").selectAll("rect").data(rows).join("rect")
		.attr("x", d => hx(d.a)).attr("width", d => hx(d.b) - hx(d.a))
		.attr("y", d => hy(d.c)).attr("height", d => hy(0) - hy(d.c))
		.attr("fill", fill).attr("fill-opacity", 0.65)
		.attr("stroke", "#000").attr("stroke-opacity", 0.65).attr("stroke-width", 1.1);
}
bars(uCounts, "#1f77b4");
bars(vCounts, "#ff7f0e");

axes(histP,
	d3.axisBottom(hx).tickValues(histXTicks).tickFormat(d3.format("d")),
	d3.axisLeft(hy).tickValues(histYTicks).tickFormat(d3.format("d")), false);
xLabel(1213, 1160, ["Wind speed (m s", "−1", ")"]);
yLabel(819, 961, ["Frequency"]);

legendBox(histP, 1436, 816, 119, 32);
histP.g.append("rect").attr("x", 1441).attr("y", 820).attr("width", 23.5).attr("height", 8.5).attr("fill", "#1f77b4").attr("fill-opacity", 0.65).attr("stroke", "#000").attr("stroke-opacity", 0.65);
histP.g.append("rect").attr("x", 1441).attr("y", 835).attr("width", 23.5).attr("height", 8.5).attr("fill", "#ff7f0e").attr("fill-opacity", 0.65).attr("stroke", "#000").attr("stroke-opacity", 0.65);
legendText(histP, 1473, 824.5, "U (zonal)");
legendText(histP, 1473, 839.5, "V (meridional)");

</script>
</body>
</html>
